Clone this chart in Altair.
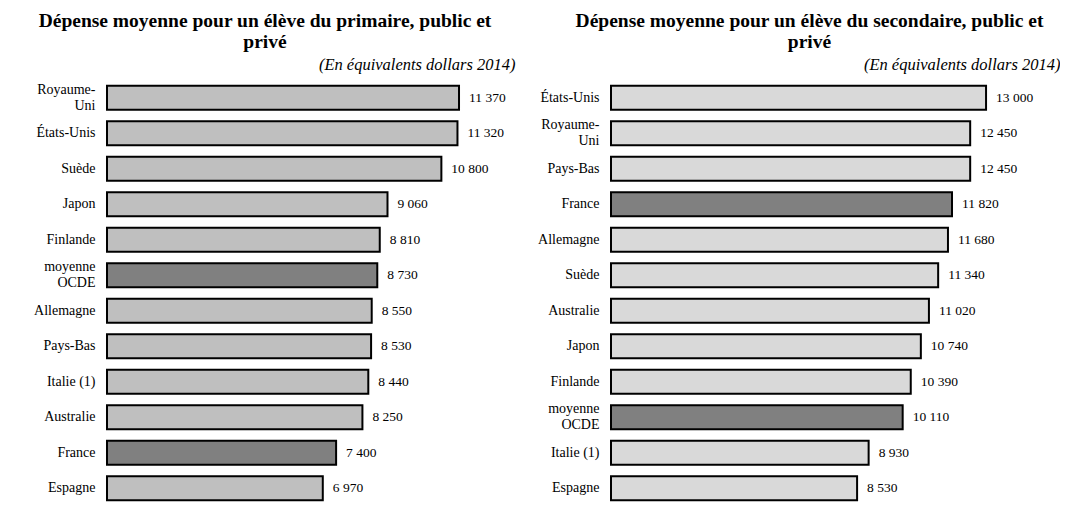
import altair as alt
import pandas as pd

FONT = "Palatino Linotype, Book Antiqua, Palatino, Liberation Serif"

prim_countries = ["Royaume-|Uni", "États-Unis", "Suède", "Japon", "Finlande", "moyenne|OCDE",
                  "Allemagne", "Pays-Bas", "Italie (1)", "Australie", "France", "Espagne"]
prim_values = [11370, 11320, 10800, 9060, 8810, 8730, 8550, 8530, 8440, 8250, 7400, 6970]

sec_countries = ["États-Unis", "Royaume-|Uni", "Pays-Bas", "France", "Allemagne", "Suède",
                 "Australie", "Japon", "Finlande", "moyenne|OCDE", "Italie (1)", "Espagne"]
sec_values = [13000, 12450, 12450, 11820, 11680, 11340, 11020, 10740, 10390, 10110, 8930, 8530]

highlighted = ["moyenne|OCDE", "France"]

title_prim = ["Dépense moyenne pour un élève du primaire, public et", "privé"]
title_sec = ["Dépense moyenne pour un élève du secondaire, public et", "privé"]
subtitle = "(En équivalents dollars 2014)"


def fmt(v):
    return f"{v:,}".replace(",", "\u00a0")


def panel(countries, values, base_color, title, width, xmax, axis_extent, title_dx):
    df = pd.DataFrame({
        "pays": countries,
        "valeur": values,
        "label": [fmt(v) for v in values],
        "hl": ["oui" if c in highlighted else "non" for c in countries],
    })
    y = alt.Y("pays:N", sort=countries,
              scale=alt.Scale(paddingInner=0.32, paddingOuter=0.16),
              axis=alt.Axis(title=None, ticks=False, domain=False, labelPadding=12,
                            labelExpr="split(datum.value, '|')", labelLineHeight=16,
                            labelOffset={"condition": {"test": "indexof(datum.value, '|') >= 0",
                                                       "value": -8}, "value": 0},
                            labelFont=FONT, labelFontSize=14, labelColor="black",
                            minExtent=axis_extent, maxExtent=axis_extent))
    x = alt.X("valeur:Q", scale=alt.Scale(domain=[0, xmax], nice=False),
              axis=alt.Axis(orient="top", labels=False, ticks=False, domain=False, grid=False,
                            title=subtitle, titleAnchor="end", titleFont=FONT,
                            titleFontStyle="italic", titleFontWeight="normal",
                            titleFontSize=16.5, titleColor="black", titlePadding=8))
    bars = alt.Chart(df).mark_bar(stroke="black", strokeWidth=2).encode(
        x=x, y=y,
        color=alt.Color("hl:N", scale=alt.Scale(domain=["non", "oui"], range=[base_color, "#808080"]),
                        legend=None),
    )
    text = alt.Chart(df).mark_text(align="left", baseline="middle", dx=10, font=FONT,
                                   fontSize=13.5, color="black").encode(
        x="valeur:Q", y=alt.Y("pays:N", sort=countries), text="label:N")
    return alt.layer(bars, text).properties(
        width=width, height=426,
        title=alt.TitleParams(title, font=FONT, fontSize=19.5, fontWeight="bold", color="black",
                              anchor="middle", frame="group", dx=title_dx, lineHeight=21, offset=4),
    )


left = panel(prim_countries, prim_values, "#BFBFBF", title_prim, 408, 408 / 0.03096, 99, -46)
right = panel(sec_countries, sec_values, "#D9D9D9", title_sec, 449, 449 / 0.02885, 80, -26)

chart = (alt.hconcat(left, right, spacing=16)
         .resolve_scale(color="independent")
         .properties(padding={"top": 2, "left": 0, "right": 0, "bottom": 0})
         .configure_view(stroke=None))

chart.save("out.html", embed_options={"renderer": "svg", "actions": False})
